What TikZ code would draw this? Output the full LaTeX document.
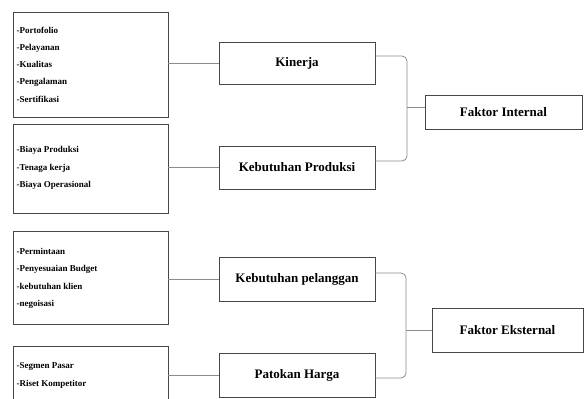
\documentclass[tikz,border=0pt]{standalone}
\usepackage{fontspec}
\setmainfont{Liberation Serif}
\begin{document}
\begin{tikzpicture}[x=1pt,y=-1pt,
  box/.style={draw=black!72, line width=0.8pt, fill=white, inner sep=0pt},
  conn/.style={draw=black!45, line width=0.8pt},
  lbl/.style={font=\fontsize{13}{15}\selectfont\bfseries},
  lst/.style={font=\fontsize{9}{17.3}\selectfont\bfseries, align=left, inner sep=0pt, anchor=west}]
\useasboundingbox (0,0) rectangle (584,399);
\clip (0,0) rectangle (584,399);
% left boxes
\node[box, minimum width=155pt, minimum height=105pt] (b1) at (90.5,64.5) {};
\node[box, minimum width=155pt, minimum height=89pt] (b2) at (90.5,168.5) {};
\node[box, minimum width=155pt, minimum height=93pt] (b3) at (90.5,277.5) {};
\node[box, minimum width=155pt, minimum height=64pt] (b4) at (90.5,378) {};
\node[lst] (t1) at (16.5,64.5) {-Portofolio\\-Pelayanan\\-Kualitas\\-Pengalaman\\-Sertifikasi};
\node[lst] (t2) at (16.5,168) {-Biaya Produksi\\-Tenaga kerja\\-Biaya Operasional};
\node[lst] (t3) at (16.5,278.5) {-Permintaan\\-Penyesuaian Budget\\-kebutuhan klien\\-negoisasi};
\node[lst] (t4) at (16.5,375.5) {-Segmen Pasar\\-Riset Kompetitor};
% middle boxes
\node[box, lbl, minimum width=156pt, minimum height=42pt] (kin) at (297,63) {Kinerja};
\node[box, lbl, minimum width=156pt, minimum height=43pt] (kp) at (297,167.5) {Kebutuhan Produksi};
\node[box, lbl, minimum width=156pt, minimum height=44pt] (kpl) at (297,279) {Kebutuhan pelanggan};
\node[box, lbl, minimum width=156pt, minimum height=44pt] (ph) at (297,375) {Patokan Harga};
% right boxes
\node[box, lbl, minimum width=157pt, minimum height=34pt] (fi) at (503.5,112) {Faktor Internal};
\node[box, lbl, minimum width=151pt, minimum height=44pt] (fe) at (507.5,330) {Faktor Eksternal};
% left connectors
\draw[conn] (kin.west -| b1.east) -- (kin.west);
\draw[conn] (kp.west -| b2.east) -- (kp.west);
\draw[conn] (kpl.west -| b3.east) -- (kpl.west);
\draw[conn] (ph.west -| b4.east) -- (ph.west);
% brackets
\coordinate (ji) at (407,107);
\coordinate (je) at (406,330);
\draw[conn, rounded corners=5pt] ([yshift=7pt]kin.east) -- (407,56) -- (407,161) -- ([yshift=6.5pt]kp.east);
\draw[conn] (ji) -- (ji -| fi.west);
\draw[conn, rounded corners=5pt] ([yshift=6pt]kpl.east) -- (406,273) -- (406,378) -- ([yshift=-3pt]ph.east);
\draw[conn] (je) -- (fe.west);
\end{tikzpicture}
\end{document}
